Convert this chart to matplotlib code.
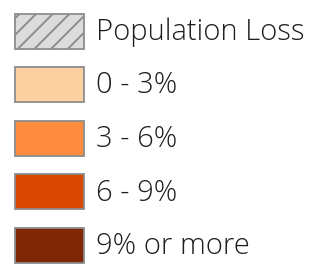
import matplotlib.pyplot as plt
from matplotlib.patches import Rectangle

labels = ['Population Loss', '0 - 3%', '3 - 6%', '6 - 9%', '9% or more']
colors = ['#dcdcdc', '#fdd0a2', '#fd8d3c', '#d94801', '#7f2704']
hatches = ['//', None, None, None, None]

fig = plt.figure(figsize=(3.18, 2.67), dpi=100)
ax = fig.add_axes([0, 0, 1, 1])
ax.set_xlim(0, 318)
ax.set_ylim(267, 0)
ax.axis('off')

plt.rcParams['hatch.color'] = '#404040'
plt.rcParams['hatch.linewidth'] = 1.4

top0, step, h = 13.5, 53.6, 35
for i, (lab, c, hat) in enumerate(zip(labels, colors, hatches)):
    y = top0 + i * step
    ax.add_patch(Rectangle((15, y), 69, h, facecolor=c, edgecolor='#8c8c8c',
                           linewidth=1.3, hatch=hat))
    ax.text(96, y + h / 2 + 1, lab, fontsize=21, family='Open Sans',
            fontweight='light', color='#1e1e1e', va='center', ha='left')

fig.savefig('out.png', dpi=100)
